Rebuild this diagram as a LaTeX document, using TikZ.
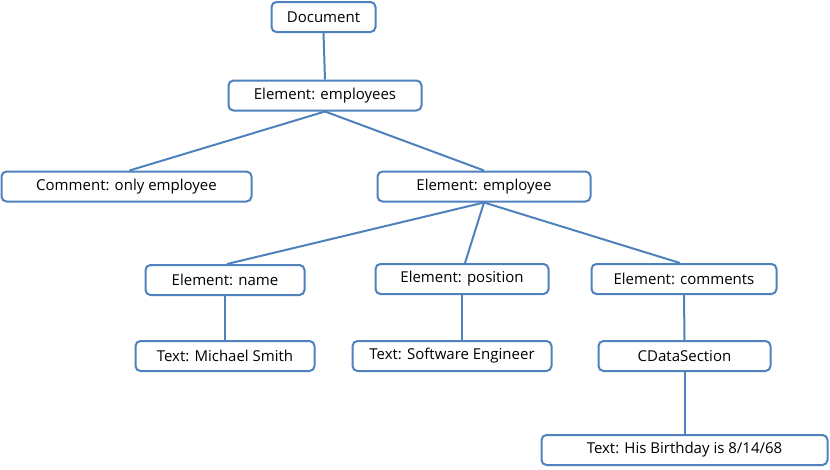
\documentclass[tikz,border=0pt]{standalone}
\usepackage{fontspec}
\setmainfont{Open Sans}
\usetikzlibrary{positioning}
\definecolor{boxblue}{RGB}{79,129,189}
\tikzset{box/.style={draw=boxblue, line width=2pt, rounded corners=5pt, fill=white,
  minimum height=30pt, inner sep=0pt, font=\fontsize{15}{17}\selectfont},
  link/.style={draw=boxblue, line width=2pt}}

\begin{document}
\begin{tikzpicture}[x=1pt, y=-1pt]
\useasboundingbox (0,0) rectangle (830,469);
% tree of the document
\node[box, minimum width=104pt] (doc) at (323.5,17) {Document};
\node[box, minimum width=193pt] (emps) at (325,95.5) {Element: employees};
\node[box, minimum width=250pt] (comm) at (126.5,186.5) {Comment: only employee};
\node[box, minimum width=213pt] (emp) at (484,186.5) {Element: employee};
\node[box, minimum width=159pt] (name) at (225,280) {Element: name};
\node[box, minimum width=173pt] (pos) at (462,279) {Element: position};
\node[box, minimum width=185pt] (comms) at (684,279) {Element: comments};
\node[box, minimum width=179pt] (smith) at (225,356) {Text: Michael Smith};
\node[box, minimum width=199pt] (eng) at (452,356) {Text: Software Engineer};
\node[box, minimum width=172pt] (cdata) at (684.5,356) {CDataSection};
\node[box, minimum width=286pt] (bday) at (684.5,450) {Text: His Birthday is 8/14/68};
% links
\draw[link] (doc.south) -- (emps.north);
\draw[link] (emps.south) -- ([xshift=3pt]comm.north);
\draw[link] (emps.south) -- (emp.north);
\draw[link] (emp.south) -- ([xshift=2pt]name.north);
\draw[link] (emp.south) -- ([xshift=3pt]pos.north);
\draw[link] (emp.south) -- ([xshift=-4pt]comms.north);
\draw[link] (name.south) -- (smith.north);
\draw[link] (pos.south) -- (pos.south |- eng.north);
\draw[link] (comms.south) -- (cdata.north);
\draw[link] (cdata.south) -- (bday.north);
\end{tikzpicture}
\end{document}
